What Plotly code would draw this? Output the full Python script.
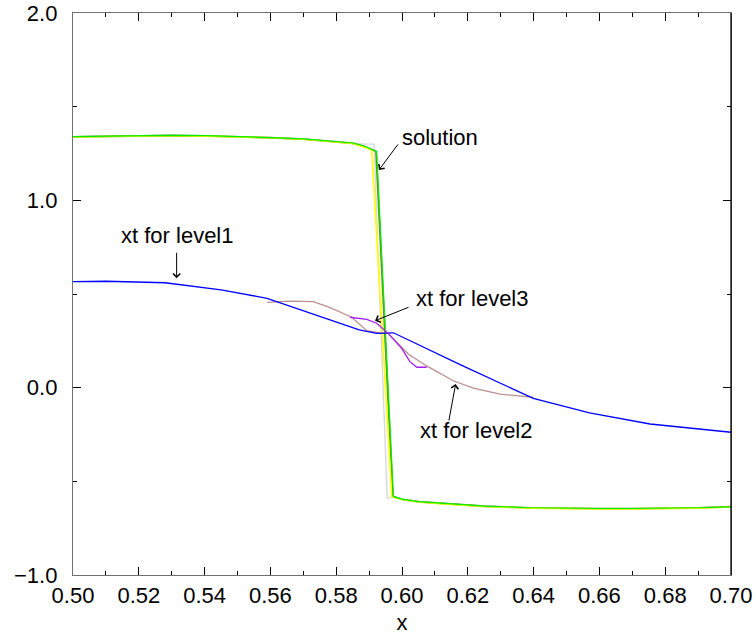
import plotly.graph_objects as go

# ---- data ----
sol_x = [0.500, 0.510, 0.520, 0.530, 0.540, 0.550, 0.560, 0.570, 0.580, 0.585, 0.5885, 0.5923,
         0.5974, 0.600, 0.605, 0.6146, 0.625, 0.6389, 0.650, 0.660, 0.670, 0.680, 0.690, 0.700]
sol_y = [1.340, 1.343, 1.345, 1.347, 1.345, 1.341, 1.335, 1.328, 1.316, 1.306, 1.290, 1.260,
         -0.582, -0.595, -0.608, -0.621, -0.632, -0.641, -0.644, -0.645, -0.645, -0.644, -0.641, -0.636]

olive_x = [0.500, 0.510, 0.520, 0.530, 0.540, 0.550, 0.560, 0.570, 0.580, 0.585, 0.5885, 0.5921,
           0.5972, 0.600, 0.605, 0.6146, 0.625, 0.6389, 0.650, 0.660, 0.670, 0.680, 0.690, 0.700]
olive_y = [1.339, 1.342, 1.346, 1.346, 1.344, 1.340, 1.334, 1.327, 1.314, 1.304, 1.288, 1.262,
           -0.580, -0.596, -0.609, -0.622, -0.633, -0.642, -0.645, -0.646, -0.646, -0.645, -0.642, -0.635]

yellow_x = [0.500, 0.510, 0.520, 0.530, 0.540, 0.550, 0.560, 0.570, 0.580, 0.585, 0.5908,
            0.5969, 0.600, 0.605, 0.6146, 0.625, 0.6389, 0.650, 0.660, 0.670, 0.680, 0.690, 0.700]
yellow_y = [1.338, 1.341, 1.344, 1.345, 1.343, 1.339, 1.334, 1.326, 1.313, 1.303, 1.270,
            -0.582, -0.597, -0.610, -0.623, -0.634, -0.643, -0.646, -0.647, -0.647, -0.646, -0.643, -0.637]

grey_x = [0.500, 0.530, 0.560, 0.580, 0.5885, 0.5915, 0.5955, 0.5974, 0.600]
grey_y = [1.340, 1.346, 1.335, 1.316, 1.300, 1.300, -0.590, -0.582, -0.595]

lvl1_x = [0.500, 0.510, 0.528, 0.545, 0.559, 0.575, 0.587, 0.5923, 0.5974, 0.618, 0.6399,
          0.657, 0.6754, 0.700]
lvl1_y = [0.566, 0.568, 0.560, 0.522, 0.477, 0.380, 0.308, 0.290, 0.293, 0.120, -0.057,
          -0.134, -0.194, -0.238]

lvl2_x = [0.559, 0.566, 0.573, 0.578, 0.5847, 0.5893, 0.5933, 0.5958, 0.6019, 0.6075,
          0.6156, 0.6217, 0.6298, 0.640]
lvl2_y = [0.455, 0.462, 0.459, 0.429, 0.376, 0.304, 0.293, 0.290, 0.180, 0.116,
          0.037, -0.003, -0.034, -0.052]

lvl3_x = [0.5842, 0.5893, 0.5923, 0.5958, 0.5999, 0.6024, 0.6045, 0.6075]
lvl3_y = [0.376, 0.365, 0.344, 0.290, 0.210, 0.139, 0.109, 0.109]

x_ticks = [0.50, 0.52, 0.54, 0.56, 0.58, 0.60, 0.62, 0.64, 0.66, 0.68, 0.70]
x_ticktext = ["0.50", "0.52", "0.54", "0.56", "0.58", "0.60", "0.62", "0.64", "0.66", "0.68", "0.70"]
y_ticks = [-1.0, 0.0, 1.0, 2.0]
y_ticktext = ["\u22121.0", "0.0", "1.0", "2.0"]

FONT = "Liberation Sans, Arial, Helvetica, sans-serif"
FS = 22

fig = go.Figure()
def add(x, y, color, w=1.4):
    fig.add_trace(go.Scatter(x=x, y=y, mode="lines", line=dict(color=color, width=w),
                             showlegend=False, hoverinfo="skip"))

add(grey_x, grey_y, "#d8d8d8")
add(olive_x, olive_y, "#6b8e23", 1.8)
add(yellow_x, yellow_y, "#ffff00", 1.6)
add(sol_x, sol_y, "#00ee00", 1.2)
add(lvl2_x, lvl2_y, "#bc8f8f", 1.3)
add(lvl1_x, lvl1_y, "#0000ff", 1.3)
add(lvl3_x, lvl3_y, "#a020f0", 1.3)

# arrows (head point in data, tail offset in pixels)
arrows = [
    (0.5930, 1.162, 20, -27),
    (0.5315, 0.584, 0, -27),
    (0.5918, 0.3575, 35, -14),
    (0.6163, 0.020, -7, 38),
]
for hx, hy, ax, ay in arrows:
    fig.add_annotation(x=hx, y=hy, xref="x", yref="y", ax=ax, ay=ay, text="",
                       showarrow=True, arrowhead=4, arrowsize=1.4, arrowwidth=1,
                       arrowcolor="black", standoff=0, startstandoff=0)

labels = [
    ("solution", 0.6116, 1.333),
    ("xt for level1", 0.5318, 0.813),
    ("xt for level3", 0.6213, 0.478),
    ("xt for level2", 0.6225, -0.229),
]
for t, lx, ly in labels:
    fig.add_annotation(x=lx, y=ly, xref="x", yref="y", text=t, showarrow=False,
                       font=dict(family=FONT, size=FS, color="black"))

axis_common = dict(showgrid=False, zeroline=False, showline=True, linecolor="#707070",
                   linewidth=1.3, mirror="ticks", ticks="inside", ticklen=8, tickwidth=1,
                   tickcolor="black", automargin=False,
                   tickfont=dict(family=FONT, size=FS, color="black"))

fig.update_xaxes(range=[0.5, 0.7], tickmode="array", tickvals=x_ticks, ticktext=x_ticktext,
                 minor=dict(ticks="inside", ticklen=4, dtick=0.01, tick0=0.5, tickcolor="black"),
                 title=dict(text="x", font=dict(family=FONT, size=FS, color="black"), standoff=8),
                 **axis_common)
fig.update_yaxes(range=[-1.0, 2.0], tickmode="array", tickvals=y_ticks, ticktext=y_ticktext,
                 minor=dict(ticks="inside", ticklen=4, dtick=0.5, tick0=0, tickcolor="black"),
                 ticklabelstandoff=10, **axis_common)

# right frame edge is black in the reference
fig.add_shape(type="line", xref="paper", yref="paper", x0=1, x1=1, y0=0, y1=1,
              line=dict(color="black", width=1.3), layer="above")

fig.update_layout(width=756, height=639, margin=dict(l=73, r=25, t=13, b=64),
                  paper_bgcolor="white", plot_bgcolor="white",
                  font=dict(family=FONT, size=FS, color="black"))

fig.write_html("out.html")
